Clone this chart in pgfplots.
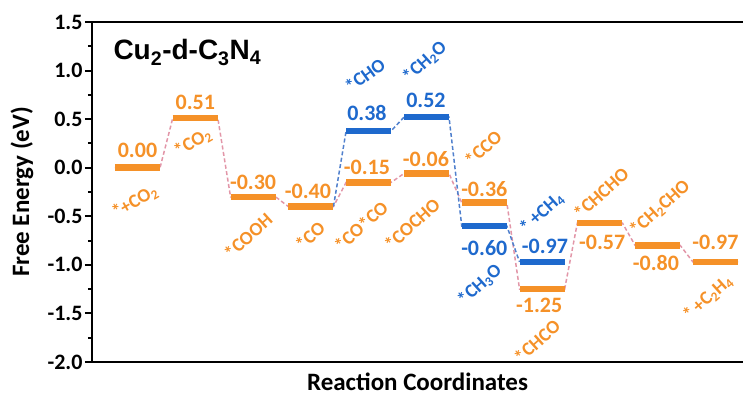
\documentclass[border=0pt]{standalone}
\usepackage{fontspec}
\setmainfont{Carlito}
\newfontfamily\arialfont{Liberation Sans}
\usepackage{pgfplots}
\pgfplotsset{compat=1.18}

\definecolor{eor}{RGB}{245,145,40}
\definecolor{ebl}{RGB}{30,105,205}
\definecolor{epk}{RGB}{226,150,168}
\definecolor{ebd}{RGB}{80,128,205}

\newcommand{\vfont}{\fontsize{22}{22}\selectfont\bfseries}
\newcommand{\sfnt}{\fontsize{19}{19}\selectfont\bfseries}

\pgfplotsset{
  level/.style={line width=6.5pt, line cap=butt, forget plot},
  link/.style={line width=1.5pt, dash pattern=on 4pt off 2.5pt, forget plot},
}

\begin{document}
\begin{tikzpicture}
\begin{axis}[
  scale only axis, width=651pt, height=340pt,
  xmin=0.213, xmax=11.476, ymin=-2, ymax=1.5,
  axis x line=box, axis y line=left,
  axis line style={line width=2.5pt, -},
  xtick=\empty,
  ytick={-2,-1.5,-1,-0.5,0,0.5,1,1.5},
  minor y tick num=1,
  tick align=outside,
  major tick length=7pt, minor tick length=4pt,
  tick style={line width=2pt, black},
  /pgf/number format/fixed,
  /pgf/number format/fixed zerofill,
  /pgf/number format/precision=1,
  /pgf/number format/assume math mode=true,
  yticklabel style={font=\vfont, xshift=1pt},
  ylabel={Free Energy (eV)},
  every axis y label/.style={at={(axis description cs:0,0.5)}, xshift=-70pt, rotate=90, anchor=center, font=\fontsize{25}{25}\selectfont\bfseries},
  xlabel={Reaction Coordinates},
  every axis x label/.style={at={(axis description cs:0.5,0)}, yshift=-28pt, anchor=base, font=\fontsize{25}{25}\selectfont\bfseries},
  clip=false,
]
\coordinate (sw) at (rel axis cs:0,0);
\coordinate (ne) at (rel axis cs:1,1);

% connecting dashed paths (drawn first, bars cover them)
\addplot[link, epk] coordinates {
  (0.61,0.00) (1.39,0.00) (1.61,0.51) (2.39,0.51) (2.61,-0.30) (3.39,-0.30)
  (3.61,-0.40) (4.39,-0.40) (4.61,-0.15) (5.39,-0.15) (5.61,-0.06) (6.39,-0.06)
  (6.61,-0.36) (7.39,-0.36) (7.61,-1.25) (8.39,-1.25) (8.61,-0.57) (9.39,-0.57)
  (9.61,-0.80) (10.39,-0.80) (10.61,-0.97) (11.39,-0.97)};
\addplot[link, ebd] coordinates {
  (4.39,-0.40) (4.61,0.38) (5.39,0.38) (5.61,0.52) (6.39,0.52)
  (6.61,-0.60) (7.39,-0.60) (7.61,-0.97)};

% energy levels, C2 pathway
\addplot[level, eor] coordinates {(0.61,0.00) (1.39,0.00)};
\addplot[level, eor] coordinates {(1.61,0.51) (2.39,0.51)};
\addplot[level, eor] coordinates {(2.61,-0.30) (3.39,-0.30)};
\addplot[level, eor] coordinates {(3.61,-0.40) (4.39,-0.40)};
\addplot[level, eor] coordinates {(4.61,-0.15) (5.39,-0.15)};
\addplot[level, eor] coordinates {(5.61,-0.06) (6.39,-0.06)};
\addplot[level, eor] coordinates {(6.61,-0.36) (7.39,-0.36)};
\addplot[level, eor] coordinates {(7.61,-1.25) (8.39,-1.25)};
\addplot[level, eor] coordinates {(8.61,-0.57) (9.39,-0.57)};
\addplot[level, eor] coordinates {(9.61,-0.80) (10.39,-0.80)};
\addplot[level, eor] coordinates {(10.61,-0.97) (11.39,-0.97)};
% energy levels, CH4 pathway
\addplot[level, ebl] coordinates {(4.61,0.38) (5.39,0.38)};
\addplot[level, ebl] coordinates {(5.61,0.52) (6.39,0.52)};
\addplot[level, ebl] coordinates {(6.61,-0.60) (7.39,-0.60)};
\addplot[level, ebl] coordinates {(7.61,-0.97) (8.39,-0.97)};

% energy values
\begin{scope}[every node/.style={font=\vfont, text=eor, anchor=center}]
\node[yshift=17pt]  at (axis cs:1,0.00) {0.00};
\node[yshift=16pt]  at (axis cs:2,0.51) {0.51};
\node[yshift=14pt]  at (axis cs:3,-0.30) {-0.30};
\node[yshift=15pt]  at (axis cs:3.95,-0.40) {-0.40};
\node[yshift=15pt]  at (axis cs:4.97,-0.15) {-0.15};
\node[yshift=14pt]  at (axis cs:5.99,-0.06) {-0.06};
\node[yshift=14pt]  at (axis cs:7,-0.36) {-0.36};
\node[yshift=-16pt] at (axis cs:7.95,-1.25) {-1.25};
\node[yshift=-19pt] at (axis cs:9.04,-0.57) {-0.57};
\node[yshift=-18pt] at (axis cs:9.97,-0.80) {-0.80};
\node[yshift=20pt]  at (axis cs:11,-0.97) {-0.97};
\end{scope}
\begin{scope}[every node/.style={font=\vfont, text=ebl, anchor=center}]
\node[yshift=18pt]  at (axis cs:4.97,0.38) {0.38};
\node[yshift=17pt]  at (axis cs:5.99,0.52) {0.52};
\node[yshift=-22pt] at (axis cs:7,-0.60) {-0.60};
\node[yshift=16pt]  at (axis cs:8.05,-0.97) {-0.97};
\end{scope}

% intermediates
\begin{scope}[every node/.style={font=\sfnt, text=eor, anchor=center, rotate=42, inner sep=0pt}]
\node[rotate=-12] at (axis cs:0.957,-0.353) {*+CO\textsubscript{2}};
\node[rotate=-12] at (axis cs:1.96,0.254) {*CO\textsubscript{2}};
\node at (axis cs:2.912,-0.703) {*COOH};
\node at (axis cs:3.985,-0.703) {*CO};
\node at (axis cs:4.867,-0.600) {*CO*CO};
\node at (axis cs:5.749,-0.580) {*COCHO};
\node at (axis cs:6.978,0.203) {*CCO};
\node at (axis cs:7.912,-1.785) {*CHCO};
\node at (axis cs:9.019,-0.260) {*CHCHO};
\node at (axis cs:10.04,-0.415) {*CH\textsubscript{2}CHO};
\node at (axis cs:10.87,-1.342) {*\,+C\textsubscript{2}H\textsubscript{4}};
\end{scope}
\begin{scope}[every node/.style={font=\sfnt, text=ebl, anchor=center, rotate=42, inner sep=0pt}]
\node[rotate=-6] at (axis cs:4.936,0.954) {*CHO};
\node at (axis cs:5.974,1.088) {*CH\textsubscript{2}O};
\node at (axis cs:6.926,-1.208) {*CH\textsubscript{3}O};
\node at (axis cs:7.998,-0.466) {*\,+CH\textsubscript{4}};
\end{scope}

\node[anchor=base west, font=\arialfont\bfseries\fontsize{28}{28}\selectfont, xshift=18pt, yshift=-38pt] at (rel axis cs:0,1) {Cu\textsubscript{2}-d-C\textsubscript{3}N\textsubscript{4}};
\end{axis}
\pgfresetboundingbox
\path ([shift={(-92pt,-34pt)}]sw) rectangle ([shift={(0pt,22pt)}]ne);
\end{tikzpicture}
\end{document}
